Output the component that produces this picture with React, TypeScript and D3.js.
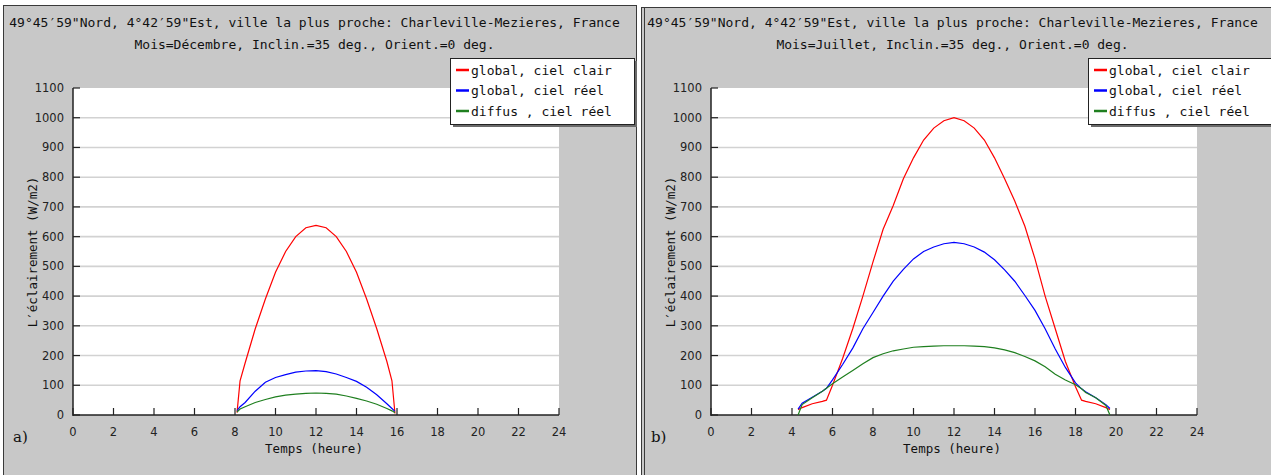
import React, { useRef, useEffect } from "react";
import * as d3 from "d3";

// données (W/m2)
const hoursDec = [8.1, 8.25, 8.5, 9, 9.5, 10, 10.5, 11, 11.5, 12, 12.5, 13, 13.5, 14, 14.5, 15, 15.5, 15.75, 15.9];
const clairDec = [8, 115, 175, 290, 390, 480, 550, 600, 630, 638, 630, 600, 550, 480, 390, 290, 180, 115, 5];
const reelDec = [15, 28, 42, 80, 110, 126, 136, 144, 148, 149, 146, 138, 126, 113, 93, 68, 38, 22, 12];
const diffusDec = [10, 20, 28, 42, 52, 61, 67, 70, 73, 74, 73, 70, 64, 56, 47, 36, 22, 14, 8];

const hoursJul = [4.3, 4.5, 5, 5.5, 5.7, 6, 6.5, 7, 7.5, 8, 8.5, 9, 9.5, 10, 10.5, 11, 11.5, 12, 12.5, 13, 13.5, 14, 14.5, 15, 15.5, 16, 16.5, 17, 17.5, 18, 18.3, 18.5, 19, 19.5, 19.7];
const clairJul = [18, 25, 38, 46, 50, 100, 190, 290, 400, 515, 625, 705, 795, 865, 925, 965, 990, 1000, 990, 965, 925, 865, 795, 720, 635, 525, 400, 290, 180, 95, 50, 46, 38, 25, 18];
const reelJul = [20, 40, 60, 80, 90, 118, 170, 225, 290, 345, 400, 450, 490, 525, 550, 565, 576, 581, 576, 565, 548, 522, 488, 450, 402, 352, 290, 222, 160, 108, 88, 78, 58, 35, 22];
const diffusJul = [0, 35, 58, 80, 90, 105, 128, 150, 172, 193, 206, 216, 222, 228, 230, 232, 233, 233, 233, 232, 230, 226, 219, 210, 197, 182, 162, 137, 118, 102, 88, 76, 58, 32, 0];

const xTicks = [0, 2, 4, 6, 8, 10, 12, 14, 16, 18, 20, 22, 24];
const yTicks = [0, 100, 200, 300, 400, 500, 600, 700, 800, 900, 1000, 1100];
const legendLabels = ["global, ciel clair", "global, ciel réel", "diffus , ciel réel"];
const colors = ["#ff0000", "#0000ff", "#1f7f1f"];

const titre1 = "49°45′59\"Nord, 4°42′59\"Est, ville la plus proche: Charleville-Mezieres, France";

const panels = [
  { ox: 0, mois: "Décembre", lettre: "a)", hours: hoursDec, series: [clairDec, reelDec, diffusDec] },
  { ox: 638, mois: "Juillet", lettre: "b)", hours: hoursJul, series: [clairJul, reelJul, diffusJul] },
];

const mono = "'DejaVu Sans Mono', monospace";
const sans = "'DejaVu Sans', sans-serif";

function App() {
  const svgRef = useRef<SVGSVGElement>(null);

  useEffect(() => {
    const svg = d3.select(svgRef.current);
    svg.selectAll("*").remove();

    panels.forEach((p, pi) => {
      const g = svg.append("g");
      const ox = p.ox;

      // cadre gris
      if (pi == 0) {
        g.append("rect").attr("x", 3.5).attr("y", 5.5).attr("width", 633).attr("height", 480)
          .attr("fill", "#c8c8c8").attr("stroke", "#3a3a3a").attr("stroke-width", 1);
      } else {
        g.append("rect").attr("x", 641.5).attr("y", 7.5).attr("width", 640).attr("height", 480)
          .attr("fill", "#c8c8c8").attr("stroke", "#3a3a3a").attr("stroke-width", 1);
        g.append("line").attr("x1", 644.5).attr("x2", 644.5).attr("y1", 8).attr("y2", 475)
          .attr("stroke", "#3a3a3a").attr("stroke-width", 1);
      }

      const x = d3.scaleLinear().domain([0, 24]).range([73 + ox, 559 + ox]);
      const y = d3.scaleLinear().domain([0, 1100]).range([415, 88]);

      // titre
      g.append("text").attr("x", 314.5 + ox).attr("y", 27).attr("text-anchor", "middle")
        .attr("font-family", mono).attr("font-size", 13).attr("fill", "#111").text(titre1);
      g.append("text").attr("x", 314.5 + ox).attr("y", 49).attr("text-anchor", "middle")
        .attr("font-family", mono).attr("font-size", 13).attr("fill", "#111")
        .text(`Mois=${p.mois}, Inclin.=35 deg., Orient.=0 deg.`);

      // zone de tracé
      g.append("rect").attr("x", x(0)).attr("y", y(1100)).attr("width", x(24) - x(0)).attr("height", y(0) - y(1100))
        .attr("fill", "#ffffff");

      g.selectAll(".grid").data(yTicks.filter(v => v > 0 && v < 1100)).enter().append("line")
        .attr("x1", x(0)).attr("x2", x(24)).attr("y1", d => y(d)).attr("y2", d => y(d))
        .attr("stroke", "#d2d2d2").attr("stroke-width", 1.6);

      // axes
      g.append("line").attr("x1", x(0)).attr("x2", x(0)).attr("y1", y(1100)).attr("y2", y(0) + 1)
        .attr("stroke", "#222").attr("stroke-width", 1.5);
      g.append("line").attr("x1", x(0)).attr("x2", x(24)).attr("y1", y(0)).attr("y2", y(0))
        .attr("stroke", "#222").attr("stroke-width", 1.5);

      g.selectAll(".yt").data(yTicks).enter().append("line")
        .attr("x1", x(0)).attr("x2", x(0) + 7).attr("y1", d => y(d)).attr("y2", d => y(d))
        .attr("stroke", "#222").attr("stroke-width", 1.2);
      g.selectAll(".xt").data(xTicks).enter().append("line")
        .attr("x1", d => x(d)).attr("x2", d => x(d)).attr("y1", y(0)).attr("y2", y(0) - 7)
        .attr("stroke", "#222").attr("stroke-width", 1.2);

      g.selectAll(".yl").data(yTicks).enter().append("text")
        .attr("x", x(0) - 9).attr("y", d => y(d)).attr("dy", "0.35em").attr("text-anchor", "end")
        .attr("font-family", sans).attr("font-size", 11.5).attr("fill", "#222").text(d => d);
      g.selectAll(".xl").data(xTicks).enter().append("text")
        .attr("x", d => x(d)).attr("y", 432).attr("dy", "0.35em").attr("text-anchor", "middle")
        .attr("font-family", sans).attr("font-size", 11.5).attr("fill", "#222").text(d => d);

      g.append("text").attr("x", (x(0) + x(24)) / 2 - 2).attr("y", 449).attr("dy", "0.35em")
        .attr("text-anchor", "middle").attr("font-family", mono).attr("font-size", 12.5).attr("fill", "#111")
        .text("Temps (heure)");
      g.append("text").attr("transform", `translate(${33 + ox},252) rotate(-90)`).attr("dy", "0.35em")
        .attr("text-anchor", "middle").attr("font-family", mono).attr("font-size", 12.5).attr("fill", "#111")
        .text("L′éclairement (W/m2)");
      g.append("text").attr("x", 13 + ox).attr("y", 437).attr("dy", "0.35em")
        .attr("font-family", "'DejaVu Serif', serif").attr("font-size", 15).attr("fill", "#111")
        .text(p.lettre);

      // courbes
      p.series.forEach((s, si) => {
        const line = d3.line<number>().x((d, i) => x(p.hours[i])).y(d => y(d));
        g.append("path").datum(s).attr("d", line).attr("fill", "none")
          .attr("stroke", colors[si]).attr("stroke-width", 1.2);
      });

      // légende
      const lx = x(24) - 109, ly = 58;
      g.append("rect").attr("x", lx + 3).attr("y", ly + 3).attr("width", 184).attr("height", 66).attr("fill", "#6a6a6a");
      g.append("rect").attr("x", lx + 0.5).attr("y", ly + 0.5).attr("width", 184).attr("height", 66)
        .attr("fill", "#fff").attr("stroke", "#222").attr("stroke-width", 1);
      legendLabels.forEach((lab, i) => {
        const yy = ly + 12 + i * 20.5;
        g.append("line").attr("x1", lx + 6).attr("x2", lx + 19).attr("y1", yy).attr("y2", yy)
          .attr("stroke", colors[i]).attr("stroke-width", 2.5);
        g.append("text").attr("x", lx + 21).attr("y", yy).attr("dy", "0.35em")
          .attr("font-family", mono).attr("font-size", 13).attr("fill", "#111").text(lab);
      });
    });
  }, []);

  return (
    <div>
      <svg ref={svgRef} width={1271} height={475}
        style={{ position: "absolute", left: 0, top: 0, background: "#fff" }}>
      </svg>
    </div>
  );
}

export default App;
